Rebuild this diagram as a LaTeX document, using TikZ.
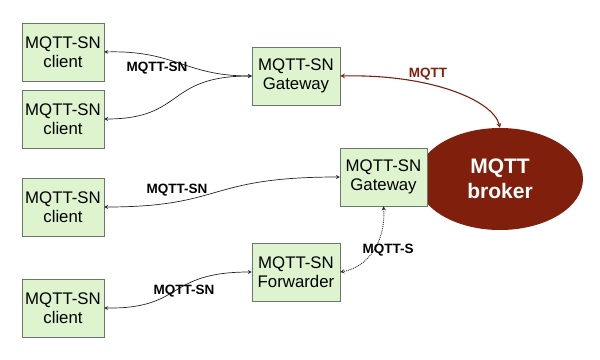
\documentclass[tikz,border=0pt]{standalone}
\usepackage{fontspec}
\setmainfont{Liberation Sans}
\usetikzlibrary{shapes.geometric}

\definecolor{boxgreen}{RGB}{221,244,206}
\definecolor{boxedge}{RGB}{105,120,105}
\definecolor{brokerred}{RGB}{128,32,12}

\begin{document}
\begin{tikzpicture}[x=1pt, y=-1pt, >=stealth,
    box/.style={draw=boxedge, fill=boxgreen, minimum width=82pt, minimum height=58pt,
        inner sep=0pt, align=center, font=\fontsize{16.8}{19}\selectfont},
    lbl/.style={font=\fontsize{13.5}{16}\selectfont\bfseries},
    link/.style={<->, black!85, line width=0.7pt}]

    \useasboundingbox (0,0) rectangle (600,359);

    % Broker first, so the lower gateway box sits over its rim
    \node[ellipse, fill=brokerred, minimum width=166pt, minimum height=102pt, text=white,
        align=center, font=\fontsize{21}{25}\selectfont\bfseries] (broker) at (500,179) {MQTT\\broker};

    % Clients on the left
    \node[box] (client1) at (63,52) {MQTT-SN\\client};
    \node[box] (client2) at (63,119) {MQTT-SN\\client};
    \node[box] (client3) at (63,207) {MQTT-SN\\client};
    \node[box] (client4) at (63,308) {MQTT-SN\\client};

    % Gateways and forwarder
    \node[box, minimum width=88pt] (gw1) at (296,76) {MQTT-SN\\Gateway};
    \node[box, minimum width=87pt] (gw2) at (383.5,177) {MQTT-SN\\Gateway};
    \node[box, minimum width=88pt] (fwd) at (296,272) {MQTT-SN\\Forwarder};

    % MQTT-SN links
    \draw[link] (client1.east) .. controls (175,50) and (185,76) .. (gw1.west);
    \draw[link] (client2.east) .. controls (185,119) and (165,76) .. (gw1.west);
    \draw[link] (client3.east) .. controls (225,207) and (205,177) .. (gw2.west);
    \draw[link] (client4.east) .. controls (185,309) and (165,272) .. (fwd.west);
    \node[lbl] (lblA) at (157,68) {MQTT-SN};
    \node[lbl] (lblB) at (177,190) {MQTT-SN};
    \node[lbl] (lblC) at (184,291) {MQTT-SN};

    % MQTT link to the broker
    \draw[<->, brokerred, line width=1.1pt] (gw1.east) .. controls (430,74) and (493,100) .. (broker.north);
    \node[lbl, text=brokerred] (lblD) at (428,74) {MQTT};

    % Forwarder to gateway
    \draw[<->, densely dotted, black!85, line width=0.9pt] (gw2.south) .. controls (386,245) and (365,268) .. (fwd.east);
    \node[lbl] (lblE) at (388,250) {MQTT-S};

\end{tikzpicture}
\end{document}
